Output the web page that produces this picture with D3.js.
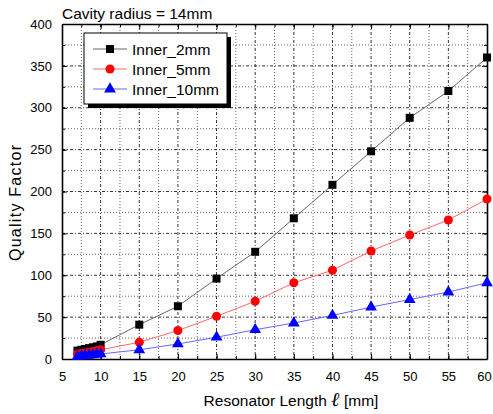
<!DOCTYPE html>
<html>
<head>
<meta charset="utf-8">
<script src="https://cdn.jsdelivr.net/npm/d3@7"></script>
<style>
body { margin: 0; background: #fff; }
text { font-family: Arial, "Liberation Sans", sans-serif; }
</style>
</head>
<body>
<svg id="chart" width="493" height="414"></svg>
<script>
var lengths = [7, 7.5, 8, 8.5, 9, 9.5, 10, 15, 20, 25, 30, 35, 40, 45, 50, 55, 60];
var inner2 = [10, 11, 12, 13, 14, 15, 17, 41, 63, 96, 128, 168, 208, 248, 288, 320, 360];
var inner5 = [6, 6.5, 7, 8, 9, 10, 11, 20, 34, 51, 69, 91, 106, 129, 148, 166, 191];
var inner10 = [3, 3.5, 4, 4.5, 5, 5.5, 6, 11, 18, 26, 35, 43, 52, 62, 71, 80, 91];
var xTicks = [5, 10, 15, 20, 25, 30, 35, 40, 45, 50, 55, 60];
var yTicks = [0, 50, 100, 150, 200, 250, 300, 350, 400];

var series = [
	{name: "Inner_2mm", values: inner2, color: "#000", line: "#666", marker: "square"},
	{name: "Inner_5mm", values: inner5, color: "#f00", line: "#f66", marker: "circle"},
	{name: "Inner_10mm", values: inner10, color: "#00f", line: "#66f", marker: "triangle"}
];

var margin = {top: 24, right: 6, bottom: 55, left: 62},
	width = 493 - margin.left - margin.right,
	height = 414 - margin.top - margin.bottom;

var x = d3.scaleLinear().domain([5, 60]).range([0, width]);
var y = d3.scaleLinear().domain([0, 400]).range([height, 0]);

var svg = d3.select("#chart");
var g = svg.append("g")
	.attr("transform", "translate(" + margin.left + "," + margin.top + ")");

// grid lines
var xMinor = d3.range(7.5, 60, 5);
var yMinor = d3.range(25, 400, 50);
g.selectAll(".gx").data(xTicks.slice(1, -1)).enter().append("line")
	.attr("x1", x).attr("x2", x).attr("y1", 0).attr("y2", height)
	.attr("stroke", "#333").attr("stroke-dasharray", "3,2,1,2");
g.selectAll(".gxm").data(xMinor).enter().append("line")
	.attr("x1", x).attr("x2", x).attr("y1", 0).attr("y2", height)
	.attr("stroke", "#666").attr("stroke-dasharray", "1,2");
g.selectAll(".gy").data(yTicks.slice(1, -1)).enter().append("line")
	.attr("y1", y).attr("y2", y).attr("x1", 0).attr("x2", width)
	.attr("stroke", "#333").attr("stroke-dasharray", "3,2,1,2");
g.selectAll(".gym").data(yMinor).enter().append("line")
	.attr("y1", y).attr("y2", y).attr("x1", 0).attr("x2", width)
	.attr("stroke", "#666").attr("stroke-dasharray", "1,2");

// axes, ticks pointing inward
function styleAxis(sel) {
	sel.select(".domain").attr("stroke-width", 1.6);
	sel.selectAll("text").attr("font-size", 13).attr("fill", "#000");
}
var xMinorAll = d3.range(5, 60.1, 2.5);
var yMinorAll = d3.range(0, 400.1, 25);

g.append("g").attr("transform", "translate(0," + height + ")")
	.call(d3.axisBottom(x).tickValues(xMinorAll).tickSizeInner(-3).tickSizeOuter(0).tickFormat(""))
	.call(function (s) { s.select(".domain").remove(); });
var xAxisG = g.append("g").attr("transform", "translate(0," + height + ")")
	.call(d3.axisBottom(x).tickValues(xTicks).tickSizeInner(-5).tickSizeOuter(0).tickPadding(13))
	.call(styleAxis);
// keep the last label inside the window
xAxisG.selectAll("text").filter(function (d) { return d == 60; }).attr("dx", -3);

g.append("g")
	.call(d3.axisLeft(y).tickValues(yMinorAll).tickSizeInner(-3).tickSizeOuter(0).tickFormat(""))
	.call(function (s) { s.select(".domain").remove(); });
g.append("g")
	.call(d3.axisLeft(y).tickValues(yTicks).tickSizeInner(-5).tickSizeOuter(0).tickPadding(10))
	.call(styleAxis);

g.append("g")
	.call(d3.axisTop(x).tickValues(xMinorAll).tickSizeInner(-3).tickSizeOuter(0).tickFormat(""))
	.call(function (s) { s.select(".domain").remove(); });
g.append("g")
	.call(d3.axisTop(x).tickValues(xTicks).tickSizeInner(-5).tickSizeOuter(0).tickFormat(""))
	.call(styleAxis);

g.append("g").attr("transform", "translate(" + width + ",0)")
	.call(d3.axisRight(y).tickValues(yMinorAll).tickSizeInner(-3).tickSizeOuter(0).tickFormat(""))
	.call(function (s) { s.select(".domain").remove(); });
g.append("g").attr("transform", "translate(" + width + ",0)")
	.call(d3.axisRight(y).tickValues(yTicks).tickSizeInner(-5).tickSizeOuter(0).tickFormat(""))
	.call(styleAxis);

// lines and markers
var symbols = {
	square: d3.symbol().type(d3.symbolSquare).size(64),
	circle: d3.symbol().type(d3.symbolCircle).size(64),
	triangle: d3.symbol().type(d3.symbolTriangle).size(60)
};

series.forEach(function (s) {
	var pts = lengths.map(function (l, i) { return {x: l, y: s.values[i]}; });
	g.append("path")
		.datum(pts)
		.attr("fill", "none")
		.attr("stroke", s.line)
		.attr("stroke-width", 1)
		.attr("d", d3.line().x(function (d) { return x(d.x); }).y(function (d) { return y(d.y); }));
	g.selectAll(".m-" + s.marker).data(pts).enter().append("path")
		.attr("d", symbols[s.marker])
		.attr("fill", s.color)
		.attr("transform", function (d) { return "translate(" + x(d.x) + "," + y(d.y) + ")"; });
});

// legend
var lg = svg.append("g").attr("transform", "translate(84,33)");
lg.append("rect").attr("x", 4).attr("y", 4).attr("width", 143).attr("height", 71).attr("fill", "#000");
lg.append("rect").attr("x", 0).attr("y", 0).attr("width", 143).attr("height", 71)
	.attr("fill", "#fff").attr("stroke", "#000").attr("stroke-width", 1);
series.forEach(function (s, i) {
	var ry = 16 + i * 20;
	lg.append("line").attr("x1", 9).attr("x2", 43).attr("y1", ry).attr("y2", ry)
		.attr("stroke", s.line).attr("stroke-width", 1);
	lg.append("path").attr("d", symbols[s.marker]).attr("fill", s.color)
		.attr("transform", "translate(26," + ry + ")");
	lg.append("text").attr("x", 48).attr("y", ry + 5.5).attr("font-size", 15.5).text(s.name);
});

// title and axis labels
svg.append("text").attr("x", 62).attr("y", 19).attr("font-size", 15.5).text("Cavity radius = 14mm");

var xl = svg.append("text").attr("x", 291).attr("y", 406).attr("text-anchor", "middle").attr("font-size", 15.5);
xl.append("tspan").text("Resonator Length ");
xl.append("tspan").attr("font-family", "'DejaVu Serif', serif").attr("font-style", "italic")
	.attr("font-weight", "bold").attr("font-size", 20).text("ℓ");
xl.append("tspan").text("  [mm]");

svg.append("text")
	.attr("transform", "translate(21,203) rotate(-90)")
	.attr("text-anchor", "middle").attr("font-size", 16)
	.attr("textLength", 116).attr("lengthAdjust", "spacing")
	.text("Quality Factor");
</script>
</body>
</html>
